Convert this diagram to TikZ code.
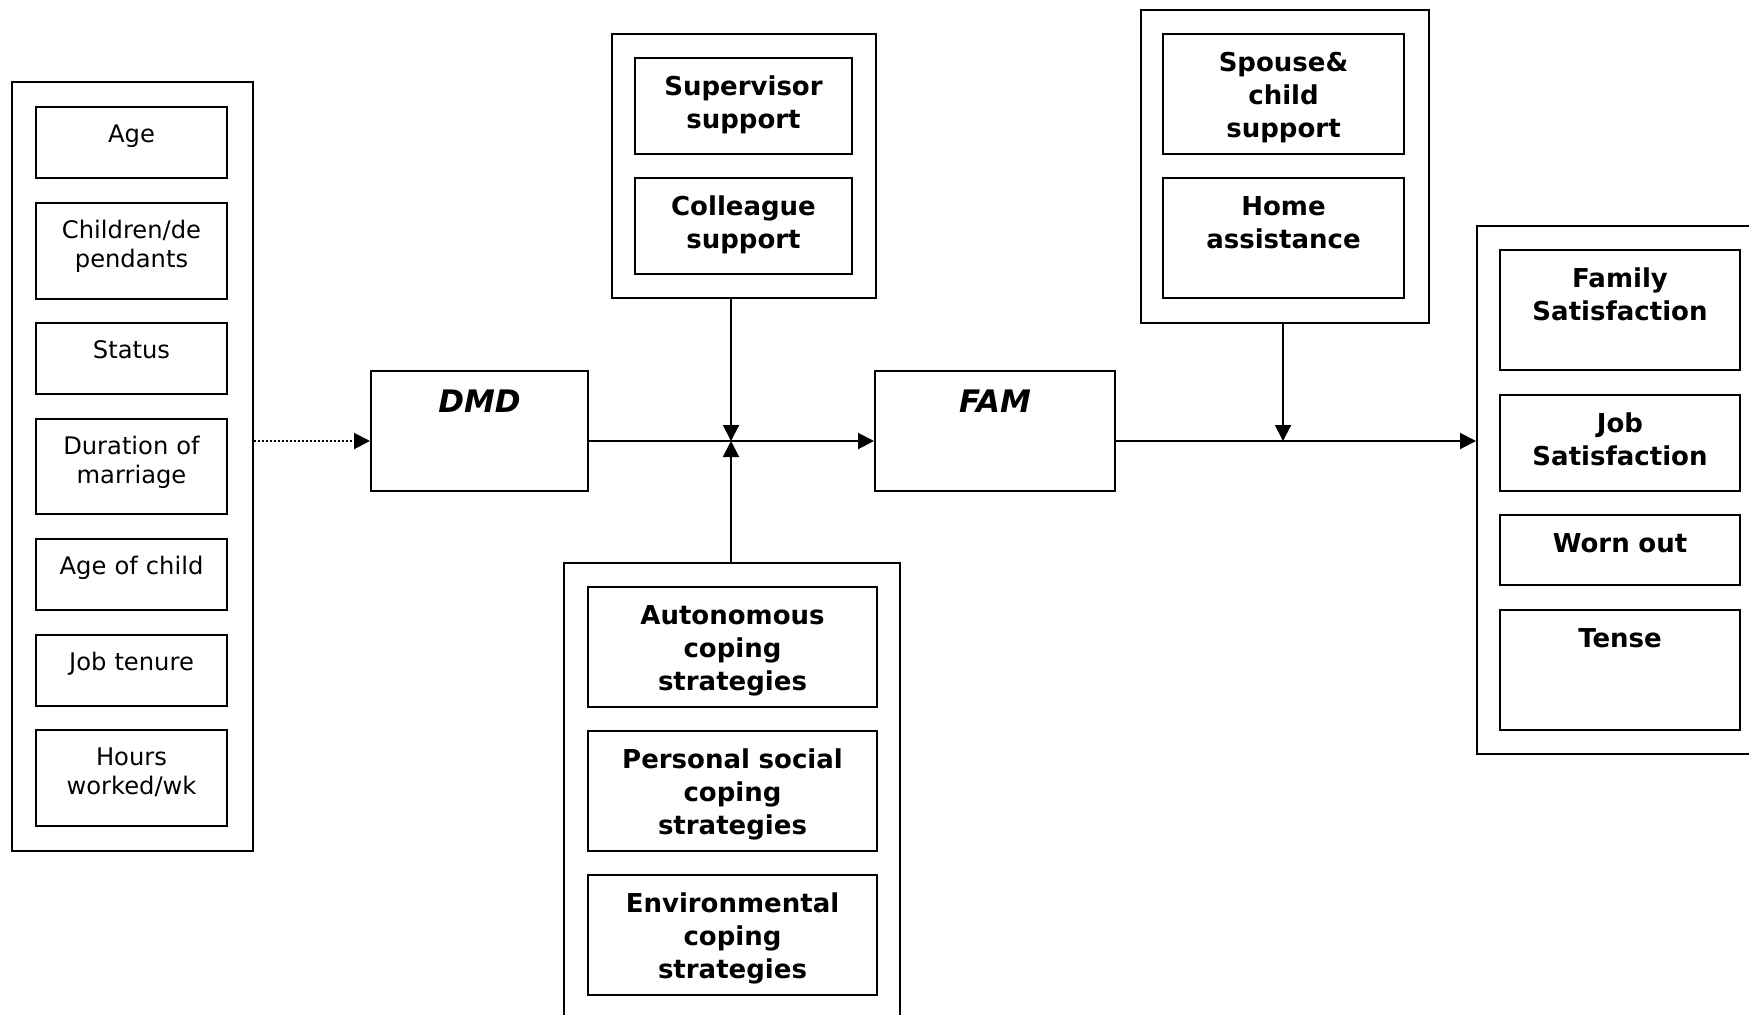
\documentclass[tikz,border=0pt]{standalone}
\usepackage{fontspec}
\setmainfont{DejaVu Sans}
\usetikzlibrary{arrows.meta}
\tikzset{
  frame/.style={draw, line width=1pt, anchor=north west, inner sep=0pt},
  cell/.style={draw, line width=1pt, anchor=north west, inner sep=0pt, align=center},
  plain/.style={cell, font=\fontsize{12.1pt}{14.6pt}\selectfont, text height=17.75pt},
  heavy/.style={cell, font=\fontsize{13pt}{16.5pt}\selectfont\bfseries, text height=18.5pt},
  central/.style={cell, font=\fontsize{15.5pt}{18pt}\selectfont\bfseries\itshape, text height=20.5pt},
  link/.style={line width=1pt, -{Triangle[length=8pt,width=8pt]}},
}
\begin{document}
\begin{tikzpicture}[x=0.5pt, y=-0.5pt]
    \useasboundingbox (0,0) rectangle (1749,1014);
    \clip (0,0) rectangle (1749,1014);
    % frames
    \node[frame, minimum width=120.5pt, minimum height=384.5pt] (demo) at (11,81) {};
    \node[frame, minimum width=132pt, minimum height=132pt] (work) at (611,33) {};
    \node[frame, minimum width=144pt, minimum height=156.5pt] (family) at (1140,9) {};
    \node[frame, minimum width=168pt, minimum height=240pt] (coping) at (563,562) {};
    \node[frame, minimum width=150pt, minimum height=264pt] (outcome) at (1476,225) {};
    % demographic variables
    \node[plain, text width=95.5pt, text depth=17.75pt] (age) at (35,106) {Age};
    \node[plain, text width=95.5pt, text depth=30.25pt] (kids) at (35,202) {Children/de\\pendants};
    \node[plain, text width=95.5pt, text depth=17.75pt] (status) at (35,322) {Status};
    \node[plain, text width=95.5pt, text depth=29.75pt] (marriage) at (35,418) {Duration of\\marriage};
    \node[plain, text width=95.5pt, text depth=17.75pt] (childage) at (35,538) {Age of child};
    \node[plain, text width=95.5pt, text depth=17.75pt] (tenure) at (35,634) {Job tenure};
    \node[plain, text width=95.5pt, text depth=30.25pt] (hours) at (35,729) {Hours\\worked/wk};
    % work support
    \node[heavy, text width=108.5pt, text depth=29.5pt] (supervisor) at (634,57) {Supervisor\\support};
    \node[heavy, text width=108.5pt, text depth=29.5pt] (colleague) at (634,177) {Colleague\\support};
    % family support
    \node[heavy, text width=120.5pt, text depth=41.5pt] (spouse) at (1162,33) {Spouse\&\\child\\support};
    \node[heavy, text width=120.5pt, text depth=41.5pt] (home) at (1162,177) {Home\\assistance};
    % coping strategies
    \node[heavy, text width=144.5pt, text depth=41.5pt] (autonomous) at (587,586) {Autonomous\\coping\\strategies};
    \node[heavy, text width=144.5pt, text depth=41.5pt] (personal) at (587,730) {Personal social\\coping\\strategies};
    \node[heavy, text width=144.5pt, text depth=41.5pt] (environ) at (587,874) {Environmental\\coping\\strategies};
    % outcomes
    \node[heavy, text width=120pt, text depth=41.5pt] (famsat) at (1499,249) {Family\\Satisfaction};
    \node[heavy, text width=120pt, text depth=29.5pt] (jobsat) at (1499,394) {Job\\Satisfaction};
    \node[heavy, text width=120pt, text depth=16.5pt] (worn) at (1499,514) {Worn out};
    \node[heavy, text width=120pt, text depth=41.5pt] (tense) at (1499,609) {Tense};
    % main chain
    \node[central, text width=108.5pt, text depth=39.5pt] (dmd) at (370,370) {DMD};
    \node[central, text width=120pt, text depth=39.5pt] (fam) at (874,370) {FAM};
    \coordinate (j1) at (731,441);
    \coordinate (j2) at (1283,441);
    % arrows
    \draw[link, dash pattern=on 0.8pt off 1.2pt] (demo.east |- j1) -- (dmd.west |- j1);
    \draw[link] (dmd.east |- j1) -- (fam.west |- j1);
    \draw[link] (fam.east |- j2) -- (outcome.west |- j2);
    \draw[link] (j1 |- work.south) -- (j1);
    \draw[link] (j1 |- coping.north) -- (j1);
    \draw[link] (j2 |- family.south) -- (j2);
\end{tikzpicture}
\end{document}
